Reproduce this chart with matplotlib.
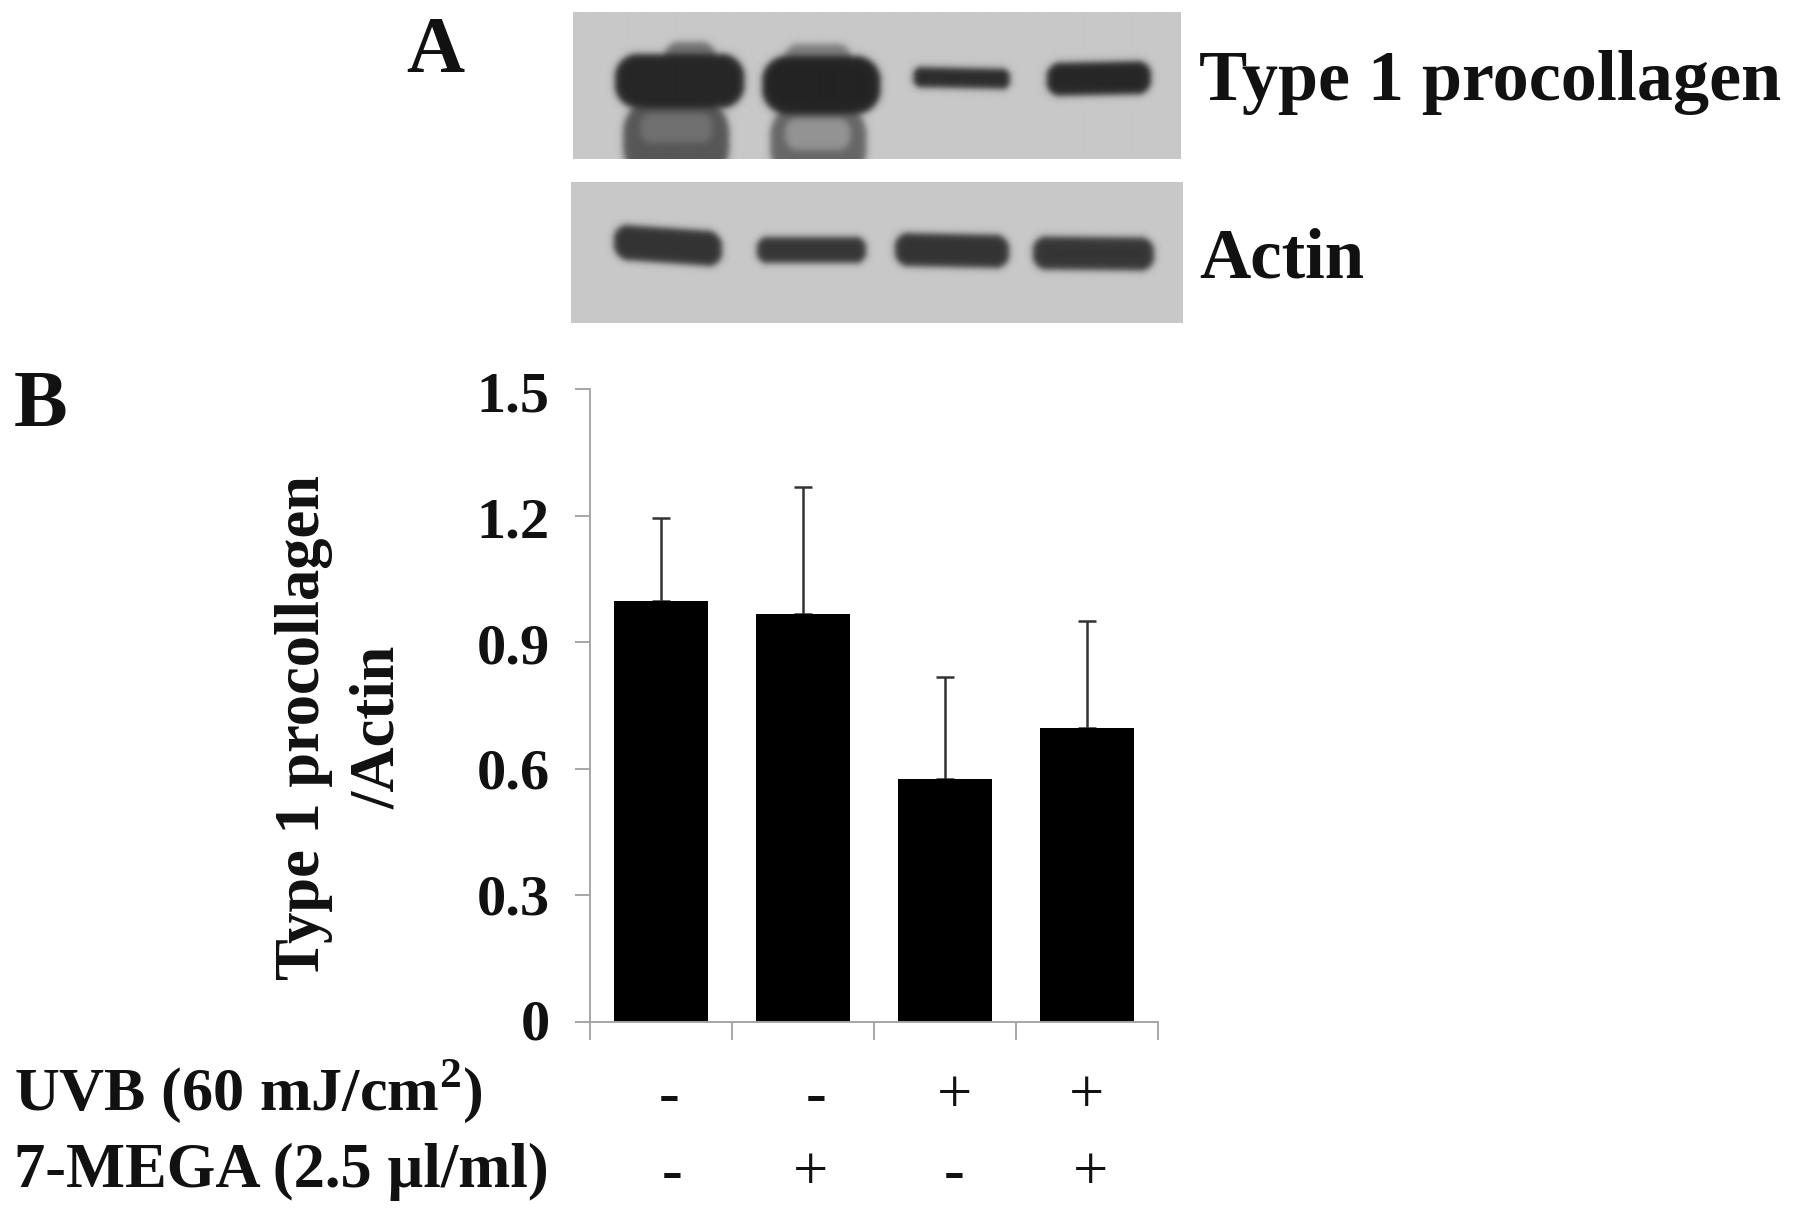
import matplotlib
matplotlib.use('Agg')
import matplotlib.pyplot as plt
from matplotlib.transforms import ScaledTranslation
import numpy as np

W = 1795
H = 1214

# bar chart values
means = [0.997, 0.966, 0.575, 0.696]
tops = [1.195, 1.267, 0.817, 0.95]
yticks = [0, 0.3, 0.6, 0.9, 1.2, 1.5]
ylabels = ['0', '0.3', '0.6', '0.9', '1.2', '1.5']
uvb = ['-', '-', '+', '+']
mega = ['-', '+', '-', '+']

# blot bands: x0, x1, y0, y1, gray level, tilt
top_bands = [
    (623, 729, 95, 185, 0.34, 0),
    (770, 866, 100, 185, 0.40, 0),
    (640, 712, 113, 143, 0.44, 0),
    (785, 850, 118, 150, 0.58, 0),
    (665, 715, 42, 75, 0.45, 0),
    (785, 850, 44, 75, 0.50, 0),
    (615, 744, 54, 108, 0.15, 0),
    (762, 880, 56, 114, 0.14, 0),
    (913, 1009, 68, 88, 0.17, 0.02),
    (1046, 1150, 62, 95, 0.15, -0.02),
]
bottom_bands = [
    (614, 722, 228, 263, 0.20, 0.07),
    (757, 866, 237, 263, 0.21, 0),
    (895, 1009, 234, 267, 0.20, 0.02),
    (1033, 1154, 237, 270, 0.21, 0.01),
]
BG = 0.785


def blot(pos, bands):
    x0, x1, y0, y1 = pos
    xx, yy = np.meshgrid(np.arange(x0, x1) + 0.5, np.arange(y0, y1) + 0.5)
    img = np.full(xx.shape, BG)
    for bx0, bx1, by0, by1, level, tilt in bands:
        cx = (bx0 + bx1) / 2
        cy = (by0 + by1) / 2
        rx = (bx1 - bx0) / 2
        ry = (by1 - by0) / 2
        r = 0.85 * min(rx, ry)
        # rounded box distance, so the band ends stay blunt
        qx = np.abs(xx - cx) - (rx - r)
        qy = np.abs(yy - cy - tilt * (xx - cx)) - (ry - r)
        dist = np.hypot(np.maximum(qx, 0), np.maximum(qy, 0)) + np.minimum(np.maximum(qx, qy), 0) - r
        a = 1 / (1 + np.exp(np.clip(dist / 2.0, -30, 30)))
        img = img * (1 - a) + level * a
    ax = fig.add_axes([x0 / W, 1 - y1 / H, (x1 - x0) / W, (y1 - y0) / H])
    ax.imshow(img, cmap='gray', vmin=0, vmax=1, aspect='auto', interpolation='bilinear')
    ax.axis('off')


def label(x, y, s, size, **kw):
    kw.setdefault('weight', 'bold')
    kw.setdefault('ha', 'left')
    kw.setdefault('va', 'baseline')
    fig.text(x / W, 1 - y / H, s, fontsize=size, color='#111111', **kw)


plt.rcParams['font.family'] = ['Liberation Serif', 'DejaVu Serif']
plt.rcParams['mathtext.fontset'] = 'custom'
plt.rcParams['mathtext.bf'] = 'Liberation Serif:bold'
plt.rcParams['mathtext.rm'] = 'Liberation Serif:bold'
fig = plt.figure(figsize=(W / 100, H / 100), dpi=100)

blot((573, 1180, 12, 159), top_bands)
blot((571, 1183, 182, 323), bottom_bands)

#----------Bars----------#
ax = fig.add_axes([590 / W, 1 - 1022 / H, 568 / W, 633 / H])
x = np.arange(4) + 0.5
errs = [t - m for t, m in zip(tops, means)]
ax.bar(x, means, width=0.66, color='black', zorder=2)
ax.errorbar(x, means, yerr=[np.zeros(4), errs], fmt='none', ecolor='#333333',
            elinewidth=1.8, capsize=6.5, capthick=1.8, zorder=1)
ax.set_xlim(0, 4)
ax.set_ylim(0, 1.5)
ax.set_xticks(range(5))
ax.set_xticklabels([])
ax.set_yticks(yticks)
ax.set_yticklabels(ylabels, fontsize=42, weight='bold', color='#111111')
ax.tick_params(axis='y', length=11, width=1.4, color='#a6a6a6', pad=18)
ax.tick_params(axis='x', length=13, width=1.4, color='#a6a6a6')
# the reference labels drift a little off their ticks towards the top
for t, v in zip(ax.get_yticklabels(), yticks):
    t.set_transform(t.get_transform() + ScaledTranslation(0, -(v / 1.5 * 5 - 2) / 100, fig.dpi_scale_trans))
for s in ['top', 'right']:
    ax.spines[s].set_visible(False)
for s in ['left', 'bottom']:
    ax.spines[s].set_color('#a6a6a6')
    ax.spines[s].set_linewidth(1.4)

#----------Text----------#
label(406, 72, 'A', 58)
label(14, 426, 'B', 58)
label(1199, 100, 'Type 1 procollagen', 51.9)
label(1199, 278, 'Actin', 51)
label(304, 727, 'Type 1 procollagen', 45, rotation=90, ha='center', va='center')
label(379, 727, '/Actin', 45, rotation=90, ha='center', va='center')
label(14, 1110, r'UVB (60 mJ/cm$^{\mathbf{2}}$)', 44.7)
label(14, 1187, '7-MEGA (2.5 µl/ml)', 45)

uvb_x = [669, 816, 955, 1086]
mega_x = [672, 811, 954, 1091]
for px, s in zip(uvb_x, uvb):
    label(px, 1113, s, 45, ha='center', weight='bold' if s == '-' else 'normal')
for px, s in zip(mega_x, mega):
    label(px, 1190, s, 45, ha='center', weight='bold' if s == '-' else 'normal')

fig.savefig('out.png', dpi=100, facecolor='white')
